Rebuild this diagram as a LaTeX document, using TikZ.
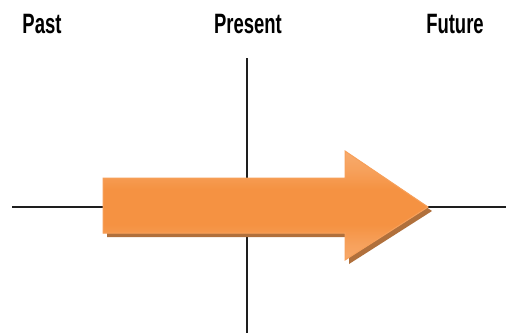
\documentclass[tikz,border=0pt]{standalone}
\usepackage{fontspec}
\setmainfont{Liberation Sans}
\usetikzlibrary{shadings}
\definecolor{arrmid}{RGB}{245,146,66}
\definecolor{arredge}{RGB}{248,176,118}
\definecolor{arrline}{RGB}{247,160,90}
\definecolor{arrshadow}{RGB}{176,112,60}
\definecolor{axis}{RGB}{30,30,30}
\pgfdeclareverticalshading{arrowshade}{100bp}{
  color(0bp)=(arredge); color(20bp)=(arredge); color(33bp)=(arredge!50!arrmid);
  color(42bp)=(arrmid); color(58bp)=(arrmid); color(67bp)=(arredge!50!arrmid); color(80bp)=(arredge); color(100bp)=(arredge)}
\tikzset{
  axisline/.style={draw=axis, line width=1.3pt},
  label/.style={font=\bfseries\fontsize{28}{28}\selectfont, anchor=base, inner sep=0pt},
}
\newcommand{\sqz}[1]{\scalebox{0.66}[1]{#1}}
\begin{document}
\begin{tikzpicture}[x=1pt,y=-1pt]
\useasboundingbox (0,0) rectangle (506,333);
\fill[white] (0,0) rectangle (506,333);
% axes
\coordinate (hl) at (12,207);
\coordinate (hr) at (506,207);
\coordinate (vt) at (247,58);
\coordinate (vb) at (247,333);
\draw[axisline] (hl) -- (hr);
\draw[axisline] (vt) -- (vb);
% arrow shadow
\fill[arrshadow] (107,182) -- (349,182) -- (349,155) -- (432,211) -- (349,264) -- (349,237) -- (107,237) -- cycle;
% arrow
\begin{scope}
  \clip (103,178) -- (345,178) -- (345,151) -- (428,207) -- (345,260) -- (345,233) -- (103,233) -- cycle;
  \fill[arrmid] (100,140) rectangle (440,270);
  \shade[shading=arrowshade] (100,152) rectangle (440,262);
\end{scope}
\draw[arrline, line width=1pt, line join=miter]
  (103,178) -- (345,178) -- (345,151) -- (428,207) -- (345,260) -- (345,233) -- (103,233) -- cycle;
% labels
\node[label] (past) at (42,33) {\sqz{Past}};
\node[label] (present) at (248,33) {\sqz{Present}};
\node[label] (future) at (455,33) {\sqz{Future}};
\end{tikzpicture}
\end{document}
